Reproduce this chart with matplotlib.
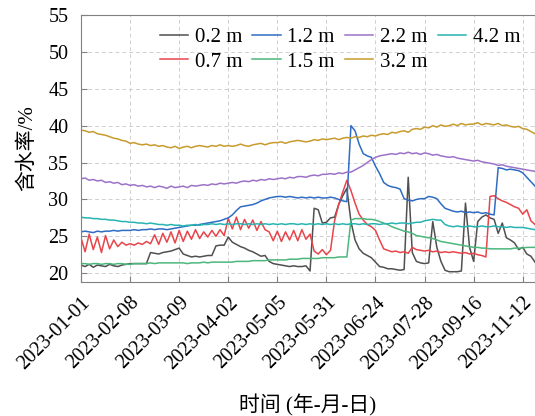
import numpy as np
import matplotlib
matplotlib.use("Agg")
import matplotlib.pyplot as plt

plt.rcParams['font.family'] = ['Liberation Serif', 'Noto Sans CJK SC']
plt.rcParams['axes.unicode_minus'] = False

# tick labels (evenly spaced along the record index, 12 samples apart)
date_labels = ['2023-01-01', '2023-02-08', '2023-03-09', '2023-04-02', '2023-05-05',
               '2023-05-31', '2023-06-24', '2023-07-28', '2023-09-16', '2023-11-12']

# water content (%) per depth
d02 = [21.1, 20.9, 21.2, 20.8, 21.1, 21.0, 20.9, 21.2, 21.0, 20.9, 21.1, 21.2,
       21.3, 21.3, 21.3, 21.3, 21.3, 22.8, 22.7, 22.6, 22.8, 22.9, 23.0, 23.2,
       23.4, 22.6, 22.4, 22.2, 22.3, 22.2, 22.3, 22.4, 22.4, 23.7, 23.8, 23.8,
       24.9, 24.2, 23.9, 23.6, 23.4, 23.1, 22.9, 22.6, 22.3, 22.4, 21.6, 21.3,
       21.2, 21.1, 21.0, 20.9, 21.0, 20.9, 20.9, 21.0, 20.3, 28.8, 28.6, 26.8,
       26.9, 27.5, 27.6, 29.3, 30.5, 31.5, 27.0, 24.5, 23.3, 22.7, 22.4, 22.1,
       21.5, 20.9, 20.8, 20.6, 20.6, 20.5, 20.4, 20.5, 33.0, 22.8, 21.6, 21.4,
       21.3, 21.4, 27.0, 23.5, 21.6, 20.4, 20.2, 20.2, 20.2, 20.3, 29.5, 23.5,
       21.6, 27.0, 27.6, 27.9, 27.5, 27.3, 25.4, 26.8, 24.8, 24.5, 24.1, 23.2,
       23.5, 22.6, 22.3, 21.5]

d07 = [24.8, 22.9, 25.3, 23.2, 24.9, 22.8, 25.1, 23.3, 24.5, 23.6, 24.2, 23.8,
       24.0, 23.8, 24.1, 23.9, 24.3, 24.0, 25.2, 23.9, 25.4, 24.2, 25.6, 24.1,
       25.8, 24.3, 25.7, 24.6, 25.9, 24.7, 25.6, 24.9, 25.8, 25.0, 25.9, 25.1,
       27.4, 26.0, 27.6, 25.9, 27.3, 26.1, 27.2, 25.8, 27.0, 25.9, 25.6, 24.4,
       25.7, 24.3, 25.6, 24.5, 25.8, 24.4, 25.9, 24.6, 25.3, 23.0, 22.6, 23.2,
       22.5, 23.1, 27.1, 29.3, 31.0, 32.6, 31.2, 29.5, 28.0, 27.2, 26.6, 26.3,
       25.8, 24.5, 23.3, 23.1, 22.9, 23.0, 22.8, 22.9, 22.7, 23.5, 23.2, 23.1,
       23.0, 23.1, 22.9, 23.0, 22.8, 22.9, 22.8, 22.9, 22.8, 22.7, 22.8, 22.6,
       22.7, 22.5, 22.4, 22.2, 30.4, 30.5, 30.1, 29.8, 29.6, 29.3, 29.0, 28.8,
       28.0, 28.6, 27.1, 26.6]

d12 = [25.6, 25.7, 25.6, 25.5, 25.7, 25.6, 25.7, 25.7, 25.8, 25.7, 25.8, 25.8,
       25.8, 25.9, 25.8, 25.9, 25.9, 26.0, 25.9, 26.0, 26.0, 25.9, 26.0, 26.1,
       26.2, 26.3, 26.4, 26.5, 26.5, 26.6, 26.7, 26.8, 26.9, 27.0, 27.1, 27.3,
       27.5, 27.9, 28.5, 29.0, 29.1, 29.2, 29.3, 29.5, 29.8, 30.0, 30.2, 30.3,
       30.4, 30.4, 30.3, 30.4, 30.3, 30.2, 30.3, 30.2, 30.3, 30.2, 30.3, 30.2,
       30.2, 30.3, 30.2, 30.0, 29.8, 29.7, 40.0, 39.3, 37.5, 36.2, 35.9, 35.7,
       34.5, 33.5, 32.3, 31.9, 31.7, 31.6, 31.4, 30.1, 29.9, 29.8, 30.0, 30.1,
       30.1, 30.4, 30.3, 30.1, 29.4, 28.8, 28.6, 28.4, 28.3, 28.4, 28.2, 28.3,
       28.2, 28.3, 28.1, 28.2, 28.0, 27.9, 34.3, 34.2, 34.0, 34.1, 34.0, 33.9,
       33.6, 33.0, 32.4, 31.8]

d15 = [21.3, 21.3, 21.2, 21.3, 21.3, 21.2, 21.3, 21.3, 21.2, 21.3, 21.3, 21.2,
       21.2, 21.3, 21.3, 21.3, 21.3, 21.4, 21.3, 21.4, 21.4, 21.4, 21.4, 21.4,
       21.4, 21.4, 21.3, 21.4, 21.4, 21.4, 21.5, 21.4, 21.5, 21.5, 21.5, 21.5,
       21.5, 21.5, 21.6, 21.6, 21.6, 21.6, 21.7, 21.7, 21.7, 21.7, 21.8, 21.8,
       21.8, 21.8, 21.8, 21.9, 21.9, 21.9, 22.0, 22.0, 22.0, 22.0, 22.0, 22.1,
       22.1, 22.1, 22.1, 22.2, 22.2, 22.2, 27.2, 27.4, 27.4, 27.4, 27.3, 27.3,
       27.2, 27.0, 26.8, 26.6, 26.3, 26.1, 25.9, 25.7, 25.6, 25.4, 25.1, 25.0,
       24.9, 24.8, 24.7, 24.5, 24.3, 24.2, 24.1, 24.0, 23.9, 23.8, 23.7, 23.6,
       23.5, 23.5, 23.4, 23.4, 23.3, 23.3, 23.3, 23.3, 23.3, 23.3, 23.4, 23.4,
       23.4, 23.5, 23.5, 23.5]

d22 = [32.8, 32.9, 32.6, 32.7, 32.5, 32.6, 32.3, 32.4, 32.2, 32.3, 32.0, 32.1,
       31.9, 32.0, 31.8, 31.9, 31.7, 31.8, 31.6, 31.8, 31.7, 31.5, 31.8, 31.6,
       31.7, 31.8, 31.6, 31.9, 31.8, 31.9, 32.0, 31.9, 32.1, 32.0, 32.2, 32.1,
       32.2, 32.3, 32.2, 32.4, 32.5, 32.4, 32.6, 32.5, 32.7, 32.6, 32.8, 32.7,
       32.8, 32.9, 32.8, 33.0, 32.9, 33.1, 33.1, 33.0, 33.2, 33.3, 33.2, 33.4,
       33.4, 33.5, 33.4, 33.6, 33.5, 33.7, 33.7, 34.0, 34.3, 34.6, 35.0, 35.4,
       35.7, 35.9, 36.0, 36.1, 36.2, 36.1, 36.3, 36.2, 36.4, 36.2, 36.3, 36.1,
       36.3, 36.2, 36.0, 36.1, 35.9, 35.8, 35.7, 35.8, 35.6, 35.5, 35.4, 35.3,
       35.2, 35.3, 35.1, 35.0, 34.9, 34.8, 34.6, 34.7, 34.5, 34.4, 34.3, 34.2,
       34.1, 34.0, 33.9, 33.8]

d32 = [39.4, 39.3, 39.1, 39.2, 38.9, 38.8, 38.7, 38.5, 38.3, 38.2, 38.0, 37.9,
       37.6, 37.7, 37.5, 37.4, 37.5, 37.3, 37.4, 37.2, 37.3, 37.1, 37.0, 37.2,
       36.9, 37.1, 37.2, 37.0, 37.2, 37.3, 37.2, 37.1, 37.3, 37.2, 37.4, 37.2,
       37.3, 37.2, 37.3, 37.5, 37.3, 37.2, 37.4, 37.5, 37.6, 37.4, 37.6, 37.7,
       37.7, 37.8, 37.6, 37.8, 37.9, 38.0, 37.9, 37.8, 37.9, 38.1, 38.0, 38.2,
       38.1, 38.2, 38.3, 38.1, 38.3, 38.4, 38.3, 38.5, 38.4, 38.6, 38.5, 38.7,
       38.6, 38.8, 38.9, 38.8, 39.1, 39.0, 39.2, 39.3, 39.1, 39.5, 39.6, 39.5,
       39.8, 39.7, 40.0, 39.8, 40.1, 39.9, 40.0, 40.2, 40.0, 40.3, 40.1, 40.2,
       40.2, 40.4, 40.1, 40.3, 40.2, 40.1, 40.3, 40.0, 40.1, 39.9, 39.8, 39.9,
       39.6, 39.5, 39.2, 38.9]

d42 = [27.6, 27.5, 27.5, 27.4, 27.4, 27.3, 27.3, 27.2, 27.2, 27.1, 27.0, 27.0,
       26.9, 26.9, 26.8, 26.8, 26.7, 26.8, 26.7, 26.6, 26.6, 26.5, 26.6, 26.5,
       26.5, 26.4, 26.5, 26.5, 26.6, 26.5, 26.6, 26.6, 26.7, 26.6, 26.7, 26.6,
       26.7, 26.6, 26.7, 26.7, 26.6, 26.7, 26.6, 26.7, 26.6, 26.7, 26.6, 26.7,
       26.6, 26.7, 26.6, 26.7, 26.7, 26.6, 26.7, 26.6, 26.7, 26.6, 26.7, 26.6,
       26.7, 26.6, 26.7, 26.6, 26.7, 26.6, 26.7, 26.7, 26.6, 26.7, 26.6, 26.7,
       26.7, 26.6, 26.7, 26.7, 26.8, 26.7, 26.8, 26.8, 26.7, 26.8, 26.9, 26.9,
       27.1, 27.2, 27.3, 27.2, 27.2, 26.6, 26.4, 26.3, 26.4, 26.3, 26.3, 26.4,
       26.3, 26.3, 26.4, 26.3, 26.3, 26.4, 26.3, 26.3, 26.2, 26.3, 26.2, 26.2,
       26.2, 26.1, 26.0, 25.9]

series = [('0.2 m', d02, '#505050'),
          ('0.7 m', d07, '#e8454b'),
          ('1.2 m', d12, '#2f6cc4'),
          ('1.5 m', d15, '#4cb77c'),
          ('2.2 m', d22, '#9c72c9'),
          ('3.2 m', d32, '#c79b2d'),
          ('4.2 m', d42, '#27b4b2')]

fig = plt.figure(figsize=(5.35, 4.16), dpi=100)
ax = fig.add_axes([0.1514, 0.322, 0.8486, 0.642])

for name, vals, col in series:
    x = np.arange(len(vals))
    ax.plot(x, vals, color=col, lw=1.1, label=name)

ax.set_xlim(0, 111)
ax.set_ylim(18.8, 55)
ax.set_yticks(np.arange(20, 56, 5))
ax.set_xticks(np.arange(0, 12 * len(date_labels), 12))
ax.set_xticklabels(date_labels, rotation=45, ha='right', rotation_mode='anchor')
ax.tick_params(direction='in', labelsize=14.5, color='#808080', length=4)
ax.tick_params(axis='y', pad=9)
ax.tick_params(axis='x', pad=8)
ax.grid(True, ls=(0, (4, 3)), color='#d0d0d0', lw=0.7)
for s in ax.spines.values():
    s.set_color('#808080')

ax.set_ylabel('含水率/%', fontsize=15, labelpad=8)
ax.set_xlabel('时间 (年-月-日)', fontsize=15, labelpad=15)

ax.legend(ncol=4, loc='upper right', frameon=False, fontsize=15,
          handlelength=1.35, handletextpad=0.33, columnspacing=0.5,
          labelspacing=0.25, borderaxespad=0.0, bbox_to_anchor=(0.987, 0.985))

fig.savefig('out.png', dpi=100)
